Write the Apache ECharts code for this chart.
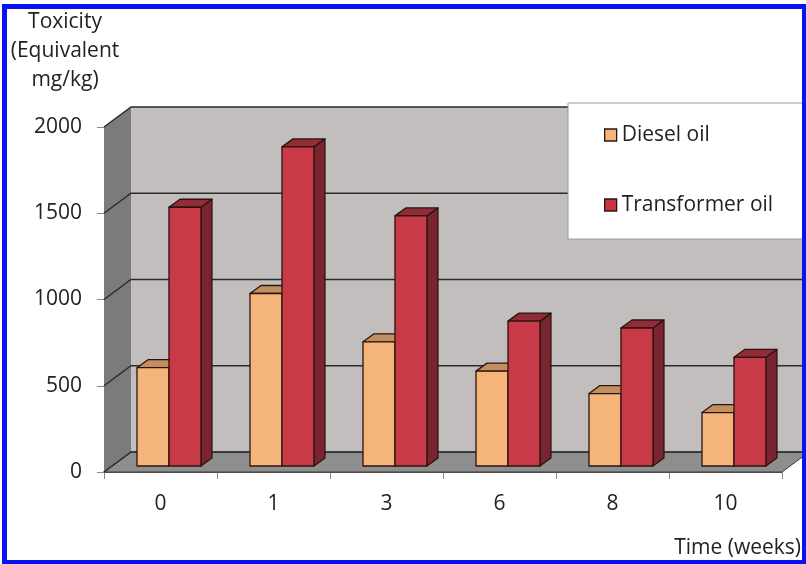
<!DOCTYPE html>
<html>
<head>
<meta charset="utf-8">
<script src="https://cdn.jsdelivr.net/npm/echarts@6/dist/echarts.min.js"></script>
<style>
  html, body { margin: 0; padding: 0; background: #ffffff; }
  #chart { width: 806px; height: 564px; }
</style>
</head>
<body>
<div id="chart"></div>
<script>
// Sampling weeks and toxicity values (equivalent mg/kg)
const categories = ['0', '1', '3', '6', '8', '10'];
const dieselOil = [570, 1000, 720, 550, 420, 310];
const transformerOil = [1500, 1850, 1450, 840, 800, 630];
const yTicks = [0, 500, 1000, 1500, 2000];

// Oblique "3D" projection settings
const WALL_DX = 27, WALL_DY = -20;   // depth of the chart box
const BAR_DY = -6;                   // bars stand slightly behind the front edge
const BAR_DEPTH_X = 11, BAR_DEPTH_Y = -8;
const BAR_WIDTH = 0.283;             // fraction of the category band

const FONT = '"Open Sans", "Noto Sans", sans-serif';
const OUTLINE = '#2b1410';

// Back wall, side wall, floor and their gridlines
function renderWalls(params, api) {
  const cs = params.coordSys;
  const xL = cs.x, xR = cs.x + cs.width;
  const y0 = api.coord([0, 0])[1];
  const yMax = api.coord([0, yTicks[yTicks.length - 1]])[1];
  const children = [];
  // back wall
  children.push({
    type: 'polygon',
    shape: { points: [[xL + WALL_DX, yMax + WALL_DY], [xR + WALL_DX, yMax + WALL_DY], [xR + WALL_DX, y0 + WALL_DY], [xL + WALL_DX, y0 + WALL_DY]] },
    style: { fill: '#c2bebe' }
  });
  // left wall
  children.push({
    type: 'polygon',
    shape: { points: [[xL, yMax], [xL + WALL_DX, yMax + WALL_DY], [xL + WALL_DX, y0 + WALL_DY], [xL, y0]] },
    style: { fill: '#7b7b7b' }
  });
  // floor
  children.push({
    type: 'polygon',
    shape: { points: [[xL, y0], [xR, y0], [xR + WALL_DX, y0 + WALL_DY], [xL + WALL_DX, y0 + WALL_DY]] },
    style: { fill: '#8e8e8e', stroke: '#3a3a3a', lineWidth: 1 }
  });
  // gridlines: diagonal on the side wall, horizontal on the back wall
  yTicks.forEach(function (t) {
    const y = api.coord([0, t])[1];
    children.push({
      type: 'polyline',
      shape: { points: [[xL, y], [xL + WALL_DX, y + WALL_DY], [xR + WALL_DX, y + WALL_DY]] },
      style: { stroke: '#2a2a2a', lineWidth: 1.4, fill: null }
    });
  });
  return { type: 'group', children: children };
}

// One oblique bar: front face, top face and right side face
function barRenderer(offset, front, top, side) {
  return function (params, api) {
    const i = api.value(0), v = api.value(1);
    const band = api.size([1, 0])[0];
    const center = api.coord([i, 0])[0];
    const yb = api.coord([i, 0])[1] + BAR_DY;
    const yt = api.coord([i, v])[1] + BAR_DY;
    const w = BAR_WIDTH * band;
    const x = center + offset * band;
    const dx = BAR_DEPTH_X, dy = BAR_DEPTH_Y;
    const stroke = { stroke: OUTLINE, lineWidth: 1.3, lineJoin: 'round' };
    return {
      type: 'group',
      children: [
        { type: 'polygon', shape: { points: [[x + w, yt], [x + w + dx, yt + dy], [x + w + dx, yb + dy], [x + w, yb]] },
          style: Object.assign({ fill: side }, stroke) },
        { type: 'polygon', shape: { points: [[x, yt], [x + w, yt], [x + w + dx, yt + dy], [x + dx, yt + dy]] },
          style: Object.assign({ fill: top }, stroke) },
        { type: 'rect', shape: { x: x, y: yt, width: w, height: yb - yt },
          style: Object.assign({ fill: front }, stroke) }
      ]
    };
  };
}

const chart = echarts.init(document.getElementById('chart'), null, { renderer: 'canvas' });

chart.setOption({
  animation: false,
  backgroundColor: '#ffffff',
  grid: { left: 104, right: 24, top: 127, bottom: 92 },
  legend: {
    data: ['Diesel oil', 'Transformer oil'],
    orient: 'vertical',
    left: 568,
    top: 103,
    padding: [20, 40, 22, 36],
    itemGap: 46,
    itemWidth: 12,
    itemHeight: 12,
    icon: 'rect',
    backgroundColor: '#ffffff',
    borderColor: '#9a9a9a',
    borderWidth: 1,
    itemStyle: { borderColor: OUTLINE, borderWidth: 1.3 },
    textStyle: { fontFamily: FONT, fontSize: 21, lineHeight: 24, color: '#222' }
  },
  xAxis: {
    type: 'category',
    data: categories,
    boundaryGap: true,
    axisLine: { show: true, lineStyle: { color: '#2a2a2a', width: 1.5 } },
    axisTick: { show: true, length: 7, alignWithLabel: false, lineStyle: { color: '#888' } },
    axisLabel: { margin: 20, fontFamily: FONT, fontSize: 21, lineHeight: 24, color: '#222' },
    splitLine: { show: false }
  },
  yAxis: {
    type: 'value',
    min: 0,
    max: 2000,
    interval: 500,
    axisLine: { show: true, lineStyle: { color: '#555', width: 1 } },
    axisTick: { show: true, length: 7, lineStyle: { color: '#888' } },
    axisLabel: {
      margin: 22, fontFamily: FONT, fontSize: 21, color: '#222',
      formatter: function (v) { return String(v); }
    },
    splitLine: { show: false }
  },
  series: [
    {
      name: 'walls',
      type: 'custom',
      z: 1,
      clip: false,
      silent: true,
      renderItem: renderWalls,
      data: [[0, 0]]
    },
    {
      name: 'Diesel oil',
      type: 'custom',
      z: 3,
      clip: false,
      itemStyle: { color: '#f5b57a' },
      encode: { x: 0, y: 1 },
      renderItem: barRenderer(-0.208, '#f5b57a', '#c48e5e', '#b07a4a'),
      data: dieselOil.map(function (v, i) { return [i, v]; })
    },
    {
      name: 'Transformer oil',
      type: 'custom',
      z: 4,
      clip: false,
      itemStyle: { color: '#c93343' },
      encode: { x: 0, y: 1 },
      renderItem: barRenderer(0.075, '#c83a48', '#922d38', '#7a2430'),
      data: transformerOil.map(function (v, i) { return [i, v]; })
    }
  ],
  graphic: [
    {
      type: 'text',
      x: 65,
      y: 8,
      style: {
        text: 'Toxicity\n(Equivalent\nmg/kg)',
        fontFamily: FONT,
        fontSize: 21,
        lineHeight: 29,
        fill: '#222',
        align: 'center',
        verticalAlign: 'top'
      }
    },
    {
      type: 'text',
      x: 801,
      y: 548,
      style: {
        text: 'Time (weeks)',
        fontFamily: FONT,
        fontSize: 21,
        fill: '#222',
        align: 'right',
        verticalAlign: 'middle'
      }
    },
    {
      type: 'rect',
      z: 100,
      shape: { x: 4.5, y: 6.5, width: 800, height: 556 },
      style: { fill: null, stroke: '#0b12f2', lineWidth: 5 }
    }
  ]
});
</script>
</body>
</html>
